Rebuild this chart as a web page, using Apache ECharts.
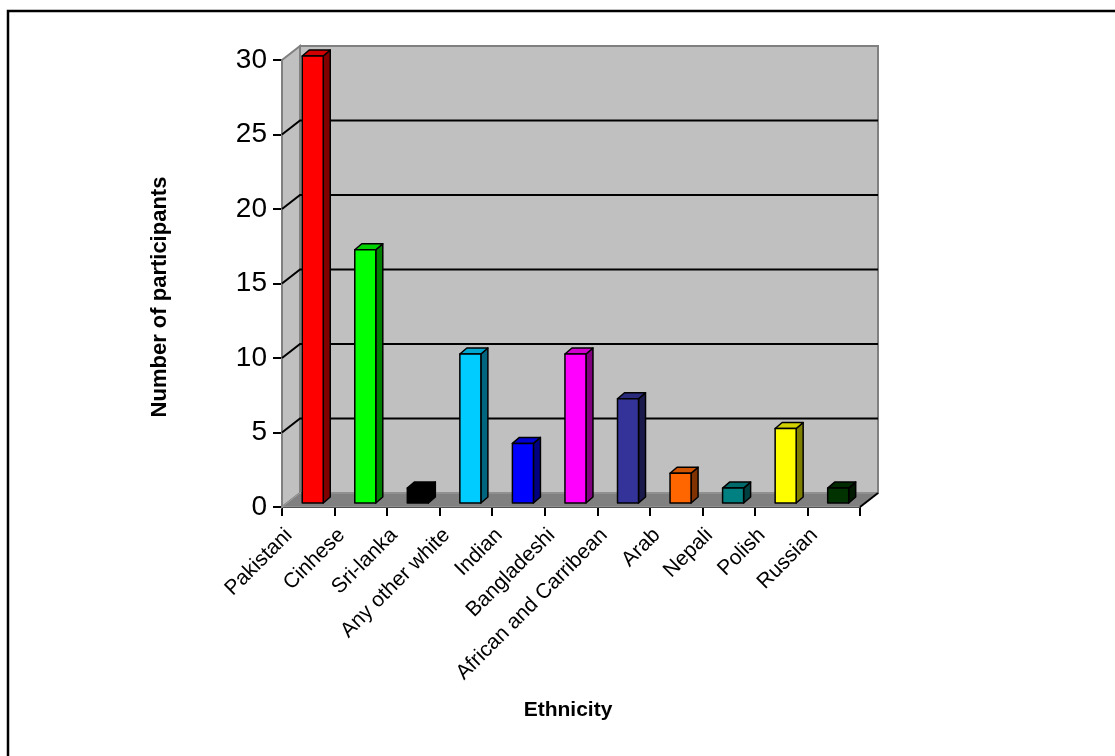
<!DOCTYPE html>
<html>
<head>
<meta charset="utf-8">
<script src="https://cdn.jsdelivr.net/npm/echarts@6/dist/echarts.min.js"></script>
<style>
  html, body { margin: 0; padding: 0; background: #ffffff; }
  #chart { width: 1115px; height: 756px; }
</style>
</head>
<body>
<div id="chart"></div>
<script>
// Participants by ethnicity
const categories = ['Pakistani', 'Cinhese', 'Sri-lanka', 'Any other white', 'Indian',
  'Bangladeshi', 'African and Carribean', 'Arab', 'Nepali', 'Polish', 'Russian'];
const participants = [30, 17, 1, 10, 4, 10, 7, 2, 1, 5, 1];
const yTicks = [0, 5, 10, 15, 20, 25, 30];
const barColors = ['#FF0000', '#00FF00', '#000000', '#00CCFF', '#0000FF', '#FF00FF',
  '#333399', '#FF6600', '#008080', '#FFFF00', '#003300'];

// depth of the box walls and of the columns (px)
const WALL_DX = 18, WALL_DY = -14;
const BAR_DX = 7, BAR_DY = -6, BAR_LIFT = -4;

function shade(hex, k) {
  const n = parseInt(hex.slice(1), 16);
  const r = Math.round(((n >> 16) & 255) * k);
  const g = Math.round(((n >> 8) & 255) * k);
  const b = Math.round((n & 255) * k);
  return 'rgb(' + r + ',' + g + ',' + b + ')';
}

const chart = echarts.init(document.getElementById('chart'), null, { renderer: 'canvas' });
const FONT = '"Liberation Sans", Arial, sans-serif';
const nCat = categories.length;
const axisCats = categories.concat(['']);

// walls, floor and gridlines of the 3-D box
function renderWalls(params, api) {
  const bl = api.coord([0, 0]);
  const tl = api.coord([0, yTicks[yTicks.length - 1]]);
  const br = api.coord([nCat, 0]);
  const children = [];
  // back wall
  children.push({
    type: 'rect',
    shape: { x: bl[0] + WALL_DX, y: tl[1] + WALL_DY, width: br[0] - bl[0], height: bl[1] - tl[1] },
    style: { fill: '#C0C0C0', stroke: '#808080', lineWidth: 2 }
  });
  // left side wall
  children.push({
    type: 'polygon',
    shape: { points: [[bl[0], tl[1]], [bl[0] + WALL_DX, tl[1] + WALL_DY], [bl[0] + WALL_DX, bl[1] + WALL_DY], [bl[0], bl[1]]] },
    style: { fill: '#C0C0C0', stroke: '#808080', lineWidth: 2 }
  });
  // floor
  children.push({
    type: 'polygon',
    shape: { points: [[bl[0], bl[1]], [br[0], br[1]], [br[0] + WALL_DX, br[1] + WALL_DY], [bl[0] + WALL_DX, bl[1] + WALL_DY]] },
    style: { fill: '#808080', stroke: '#A0A0A0', lineWidth: 1 }
  });
  children.push({
    type: 'line',
    shape: { x1: br[0], y1: br[1], x2: br[0] + WALL_DX, y2: br[1] + WALL_DY },
    style: { stroke: '#000', lineWidth: 2 }
  });
  // gridlines on back and side walls
  yTicks.forEach(function (t) {
    if (t === 0 || t === yTicks[yTicks.length - 1]) return;
    const p = api.coord([0, t]);
    children.push({
      type: 'polyline',
      shape: { points: [[p[0], p[1]], [p[0] + WALL_DX, p[1] + WALL_DY], [br[0] + WALL_DX, p[1] + WALL_DY]] },
      style: { stroke: '#000', lineWidth: 2, fill: null }
    });
  });
  return { type: 'group', children: children };
}

function renderBar(params, api) {
  const i = api.value(0), v = api.value(1);
  const base = api.coord([i, 0]);
  const top = api.coord([i, v]);
  const bw = api.size([1, 0])[0];
  const x0 = base[0] + bw * 0.385, w = bw * 0.4;
  const y0 = base[1] + BAR_LIFT, y1 = top[1] + BAR_LIFT;
  const c = barColors[params.dataIndex];
  const line = { stroke: '#000', lineWidth: 1.5, lineJoin: 'round' };
  return {
    type: 'group',
    children: [
      { type: 'polygon', shape: { points: [[x0 + w, y1], [x0 + w + BAR_DX, y1 + BAR_DY], [x0 + w + BAR_DX, y0 + BAR_DY], [x0 + w, y0]] },
        style: Object.assign({ fill: shade(c, 0.5) }, line) },
      { type: 'polygon', shape: { points: [[x0, y1], [x0 + w, y1], [x0 + w + BAR_DX, y1 + BAR_DY], [x0 + BAR_DX, y1 + BAR_DY]] },
        style: Object.assign({ fill: shade(c, 0.82) }, line) },
      { type: 'rect', shape: { x: x0, y: y1, width: w, height: y0 - y1 },
        style: Object.assign({ fill: c }, line) }
    ]
  };
}

const option = {
  animation: false,
  backgroundColor: '#ffffff',
  grid: [
    { left: 282, top: 60, width: 578, height: 447, containLabel: false },
    // same box, nudged right, carrying the slanted category labels
    { left: 289, top: 60, width: 578, height: 447, containLabel: false }
  ],
  xAxis: [
    {
      gridIndex: 0, type: 'category', data: axisCats, boundaryGap: false,
      axisLine: { show: true, lineStyle: { color: '#000', width: 2 } },
      axisTick: { show: true, interval: 0, length: 9, lineStyle: { color: '#000', width: 2 } },
      axisLabel: { show: false, interval: 0 },
      splitLine: { show: false }
    },
    {
      gridIndex: 1, type: 'category', data: axisCats, boundaryGap: false,
      axisLine: { show: false }, axisTick: { show: false }, splitLine: { show: false },
      axisLabel: { interval: 0, rotate: 45, margin: 25, fontFamily: FONT, fontSize: 21, color: '#000' }
    }
  ],
  yAxis: [
    {
      gridIndex: 0, type: 'value', min: 0, max: 30, interval: 5,
      axisLine: { show: true, lineStyle: { color: '#000', width: 2 } },
      axisTick: { show: true, length: 9, lineStyle: { color: '#000', width: 2 } },
      axisLabel: { margin: 15, fontFamily: FONT, fontSize: 28, color: '#000' },
      splitLine: { show: false }
    },
    {
      gridIndex: 1, type: 'value', min: 0, max: 30, interval: 5, show: false
    }
  ],
  series: [
    { type: 'custom', renderItem: renderWalls, data: [[0, 0]], clip: false, silent: true, z: 1 },
    { type: 'custom', renderItem: renderBar, clip: false, z: 5,
      data: participants.map(function (v, i) { return [i, v]; }) }
  ],
  graphic: [
    { type: 'rect', shape: { x: 8, y: 11, width: 1200, height: 800 },
      style: { fill: null, stroke: '#000', lineWidth: 2.5 }, z: 100, silent: true },
    { type: 'text', x: 160, y: 297, rotation: Math.PI / 2,
      style: { text: 'Number of participants', font: 'bold 22px ' + FONT, fill: '#000', align: 'center', verticalAlign: 'middle' } },
    { type: 'text', x: 568, y: 710,
      style: { text: 'Ethnicity', font: 'bold 21px ' + FONT, fill: '#000', align: 'center', verticalAlign: 'middle' } }
  ]
};
chart.setOption(option);
</script>
</body>
</html>
